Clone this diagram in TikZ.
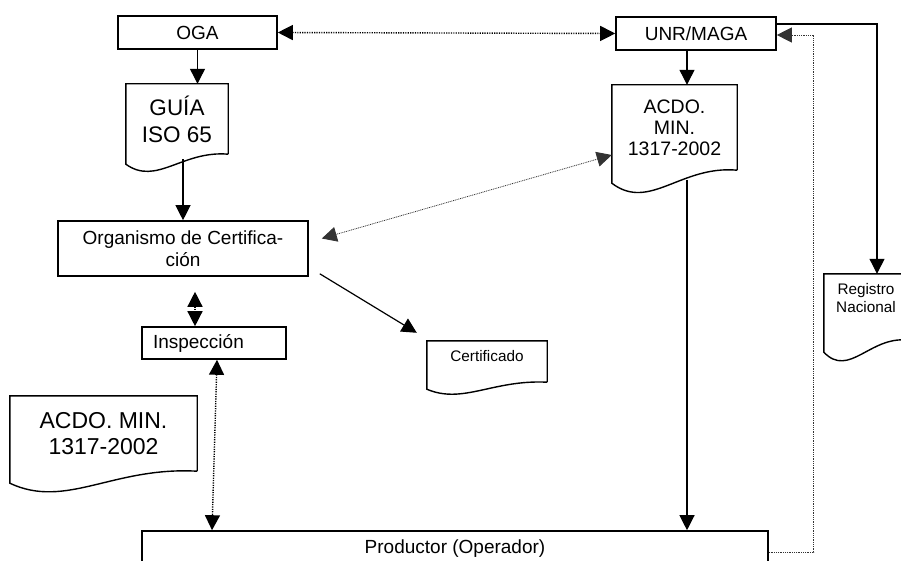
\documentclass[tikz,border=0pt]{standalone}
\usepackage{fontspec}
\setmainfont{Liberation Sans}
\usetikzlibrary{calc,arrows.meta}
\def\docedge[#1](#2)(#3:#4){\draw[#1] ($(#2.south east)+(0,#3)$) -- (#2.north east) -- (#2.north west) -- ($(#2.south west)+(0,#3+#4)$) .. controls ($(#2.south west)!0.3!(#2.south east)+(0,#3+3.2*#4)$) and ($(#2.south west)!0.55!(#2.south east)+(0,#3-0.4*#4)$) .. ($(#2.south east)+(0,#3)$);}
\tikzset{
	>={Triangle[length=15pt,width=15pt]},
	box/.style={draw, line width=1.6pt, inner sep=0pt, align=center, font=\fontsize{19}{22}\selectfont},
	doc/.style={inner sep=0pt, align=center, font=\fontsize{19.5}{21}\selectfont},
	docline/.style={line width=1.4pt},
	link/.style={line width=1.2pt, ->},
	dots/.style={line width=1.4pt, dash pattern=on 1.2pt off 1.2pt},
	fine/.style={line width=0.8pt, dash pattern=on 0.9pt off 0.9pt, color=black!80},
}
\begin{document}
\begin{tikzpicture}[x=1pt, y=-1pt]
		%%%%% START %%%%%
		\useasboundingbox (0,0) rectangle (901,561);
		
		\node[box, minimum width=159pt, minimum height=33pt] (oga) at (197.5, 32.5) {OGA};
		\node[box, minimum width=160pt, minimum height=33pt] (unr) at (696, 33.5) {UNR/MAGA};
		
		\node[doc, minimum width=102pt, minimum height=70pt, font=\fontsize{22.5}{27}\selectfont] (guia) at (177, 119) {GUÍA\\ISO 65};
		\node[doc, minimum width=125pt, minimum height=85pt] (acdo) at (674.5, 127.5) {ACDO.\\MIN.\\1317-2002};
		\docedge[docline](guia)(0:10)
		\docedge[docline](acdo)(0:13)
		
		\node[box, minimum width=250pt, minimum height=55pt] (org) at (183, 248.5) {Organismo de Certifica-\\ción};
		\node[box, minimum width=144pt, minimum height=32pt, text width=122pt, inner xsep=11pt, align=left] (insp) at (214, 343) {Inspección};
		
		\node[doc, minimum width=120pt, minimum height=30pt, font=\fontsize{15.3}{18}\selectfont] (cert) at (487, 356) {Certificado};
		\node[doc, minimum width=84pt, minimum height=48pt, font=\fontsize{15.3}{18}\selectfont] (reg) at (866, 298) {Registro\\Nacional};
		\node[doc, minimum width=187pt, minimum height=75pt, font=\fontsize{23}{26}\selectfont] (acdob) at (103.5, 433.5) {ACDO. MIN.\\1317-2002};
		\docedge[docline](cert)(11:7)
		\docedge[docline](reg)(18:12)
		\docedge[docline](acdob)(0:12)
		
		\node[box, minimum width=626pt, minimum height=36pt] (prod) at (455, 549) {Productor (Operador)};
		
		% solid flow
		\draw[link] (oga.south) -- (oga.south |- guia.north);
		\draw[link] ([xshift=-9pt]unr.south) -- ([xshift=-9pt]unr.south |- acdo.north);
		\draw[link] ([yshift=-5pt]org.north |- guia.south) -- (org.north);
		\draw[link] ([xshift=12.5pt, yshift=-10pt]acdo.south) -- ([xshift=12.5pt]acdo.south |- prod.north);
		\draw[link] ([yshift=9.5pt]unr.east) -| ([xshift=11pt]reg.north);
		\draw[link] ([xshift=11pt, yshift=3pt]org.south east) -- ([xshift=-10pt, yshift=8pt]cert.north west);
		
		% dotted links
		\draw[dots, <->] (oga.east) -- (unr.west);
		\draw[dots, <->] ([xshift=-19pt, yshift=-15pt]insp.north |- org.south) -- ([xshift=-19pt]insp.north);
		\draw[dots, <->] ([xshift=3pt]insp.south) -- ([xshift=-2pt]insp.south |- prod.north);
		\draw[fine, <->] ([yshift=-27.5pt]acdo.west) -- ([xshift=13pt, yshift=10pt]org.east);
		\draw[fine, ->] ([yshift=-3pt]prod.east) -- ++(45,0) |- ([yshift=-1.5pt]unr.east);
		
		%%%%% END %%%%%
	\end{tikzpicture}
\end{document}
